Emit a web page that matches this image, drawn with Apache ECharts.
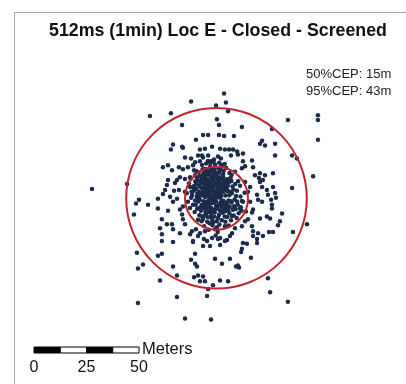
<!DOCTYPE html>
<html>
<head>
<meta charset="utf-8">
<script src="https://cdn.jsdelivr.net/npm/echarts@6/dist/echarts.min.js"></script>
<style>
  html, body { margin: 0; padding: 0; background: #fff; }
  #chart { width: 406px; height: 384px; }
</style>
</head>
<body>
<div id="chart"></div>
<script>
// Chart text
const chartTitle = '512ms (1min) Loc E - Closed - Screened';
const cepLabels = ['50%CEP: 15m', '95%CEP: 43m'];

// CEP radii in metres (50% and 95%), centred on the mean position
const cepRadii = [15, 43];

// Scale bar ticks (metres) and segment length
const scaleTicks = [0, 25, 50];
const scaleSegment = 12.5;
const scaleUnit = 'Meters';

// Position fixes: [east, north] offsets in metres from the mean position
const outerFixes = [
  [-12.1,46.9],[-31.7,39.8],[-21.7,41.2],[-16.4,35.5],[-6.4,30.7],[-4.0,30.7],[-9.8,28.3],[-16.4,25.0],
  [-20.7,26.0],[-21.7,23.6],[-7.9,23.6],[-5.5,24.0],[-6.9,20.7],[-15.0,19.8],[-12.1,19.3],[-10.2,17.4],
  [-7.9,17.9],[-11.2,16.0],[-23.1,16.0],[-25.5,15.0],[-21.2,13.6],[-16.0,14.0],[-10.7,13.6],
  [3.6,50.7],[-0.2,45.0],[4.5,46.4],[5.5,42.1],[34.0,37.9],[48.3,40.2],[48.3,37.9],[0.2,38.3],[1.2,35.5],
  [12.1,34.5],[26.4,33.6],[1.2,30.7],[3.6,30.2],[8.3,30.2],[21.7,27.9],[20.7,26.4],[23.1,25.5],[27.9,26.4],
  [48.3,28.3],[1.7,24.0],[6.0,23.6],[7.9,23.6],[9.8,22.6],[12.6,21.7],[27.9,20.7],[36.0,20.7],[16.9,18.3],
  [0.7,20.2],[2.1,19.3],[-1.2,18.8],[-4.0,20.7],[-2.6,17.9],[6.9,20.7],[10.2,21.2],[12.6,17.9],[13.6,15.5],
  [12.1,14.5],[46.0,10.7],[17.4,15.0],[20.7,12.1],[23.1,11.2],[20.7,7.9],[26.9,12.1],
  [-59.3,4.5],[-42.6,6.9],[-36.9,-0.7],[-38.3,-2.6],[-32.6,-3.1],[-39.3,-7.9],[-27.9,-0.2],[-27.9,-5.0],
  [-23.6,6.4],[-24.5,4.0],[-18.8,8.8],[-19.8,7.4],[-22.1,0.7],[-20.7,-1.7],[-18.8,-0.2],[-17.9,4.0],
  [-20.2,3.6],[-26.0,-10.2],[-23.6,-12.6],[-21.2,-12.6],[-26.9,-14.5],[-26.0,-17.4],[-26.0,-20.7],
  [-20.7,-21.2],[-16.4,-7.9],[-16.0,-10.2],[-15.0,-12.6],[-12.6,-17.4],[-11.2,-21.2],[-8.8,-18.3],
  [-23.1,-6.0],[-17.4,-5.5],[-15.0,9.3],[-12.6,10.2],[-10.2,11.2],
  [-37.4,-50.7],[-18.8,-47.9],[-4.5,-47.4],[-4.0,-44.0],[-26.9,-39.8],[-37.4,-34.0],[-35.0,-32.1],
  [-37.9,-26.4],[-27.9,-27.9],[-26.0,-26.9],[-20.7,-33.1],[-18.8,-37.4],[-10.7,-38.3],[-8.8,-37.4],
  [-6.4,-37.9],[-5.5,-40.2],[-1.7,-42.1],[-10.2,-31.7],[-9.3,-33.1],[-12.1,-29.8],[-0.7,-29.3],[2.6,-31.7],
  [6.4,-29.3],[10.2,-32.6],[10.7,-33.6],[9.3,-33.1],[12.1,-24.5],[14.5,-22.1],[12.6,-21.7],[5.0,-20.2],
  [1.7,-19.3],[-10.2,-26.9],[-11.2,-20.7],[-6.0,-19.8],[-4.5,-20.7],
  [34.0,-50.2],[25.5,-45.5],[24.5,-38.8],[16.4,-28.8],[36.4,-16.4],[43.1,-12.6],[31.2,-7.4],[30.2,-11.2],
  [29.3,-13.1],[26.9,-16.4],[25.0,-16.4],[19.3,-19.8],[19.3,-21.7],[19.8,-16.9],[17.4,-16.0],[20.7,-9.8],
  [24.0,-8.8],[26.4,-5.0],[26.4,-3.1],[21.7,-1.7],[16.0,-1.7],[17.4,-5.5],[15.0,-10.2],[-2.1,-19.3],
  [0.7,-19.8],[1.7,-22.6],[-6.4,-23.1],[-3.1,-23.1],[-11.7,-16.0],[-9.8,-15.0],[-7.9,-16.9],[6.4,-18.3],
  [-20.7,-15.0],[-17.4,-16.9],[1.7,-39.8],[5.5,-40.2],
  [36.0,5.0],[27.9,2.6],[28.3,0.2],[26.0,-0.7],[24.5,1.7],[24.0,4.0],[22.1,8.8],[20.2,9.8],[18.3,11.2],
  [21.7,5.5],[19.3,1.7],[19.8,-0.7],[16.9,-6.9],[25.5,-9.8],[16.9,-13.6],[13.6,-11.2],[17.4,-18.3],
  [22.1,-18.3],[8.8,-14.5],[12.1,-13.6],[7.4,-16.9],[4.0,-20.7],[-15.0,-58.3],[-2.6,-58.8],[11.7,-26.0],
  [-7.9,-40.2],[-16.0,24.5],[-2.1,25.0],[4.0,23.6],[-8.8,20.7],[-6.4,19.8],[-17.9,15.0],[-13.6,15.0],
  [-23.1,8.8],[-17.4,10.2],[-25.5,2.1],[38.3,19.3],[26.9,5.5],
  [13.6,7.9],[15.0,3.1],[12.6,-1.7],[16.0,5.5],[11.2,-5.0],[14.0,-6.4],[-15.0,3.1],[-13.6,-1.7],
  [-16.0,-4.0],[-12.6,5.5],[-5.5,-16.0],[-0.7,-15.0],[4.0,-13.6]
];

const coreFixes = [
  [-3.2,2.1],[-1.4,4.3],[-5.1,6.2],[0.3,0.4],[2.2,3.1],[-2.1,-2.3],[-6.3,1.2],[1.1,7.4],[-4.2,9.1],[3.3,-1.2],
  [-7.1,-3.3],[4.2,5.1],[-1.2,-5.4],[-3.1,11.2],[0.2,12.3],[5.1,9.2],[-8.2,6.1],[2.3,-4.1],[-5.2,-6.3],[6.1,1.4],
  [-9.1,2.2],[7.2,-2.1],[-2.3,8.2],[1.2,-8.1],[-4.1,-9.2],[3.2,10.1],[-6.2,12.1],[4.1,-6.3],[-10.2,-1.1],[8.1,4.2],
  [-1.1,14.1],[-3.3,-12.1],[5.2,-9.1],[-7.2,9.3],[9.1,-5.2],[0.1,-11.2],[-11.1,5.3],[6.2,12.2],[2.1,15.1],[-5.3,14.2],
  [-8.1,-8.2],[7.1,8.3],[-2.2,5.4],[1.3,2.2],[-4.3,4.1],[-3.4,-4.2],[2.4,-1.3],[0.4,5.2],[-6.1,-1.4],[3.1,6.3],
  [-1.3,1.1],[-2.4,-7.2],[4.3,1.3],[-5.4,3.2],[-8.3,0.1],[6.3,-4.1],[-3.2,7.3],[1.4,10.2],[-7.3,5.1],[5.3,3.4],
  [-9.2,-5.1],[8.2,-8.3],[-4.4,13.1],[3.4,13.2],[-10.1,8.2],[9.3,1.1],[-2.1,-10.3],[0.2,-14.1],[-6.4,-10.1],[10.1,-3.2],
  [-12.1,0.2],[11.2,6.1],[-1.4,9.4],[2.2,7.2],[-5.1,-3.4],[-3.3,0.3],[1.1,-3.2],[-2.3,3.3],[4.4,-2.2],[-7.4,-6.1],
  [0.3,3.1],[-4.2,1.3],[2.3,1.2],[-1.2,-2.1],[-3.4,5.2],[3.3,3.2],[-6.2,4.4],[5.4,6.1],[-8.4,3.2],[1.2,12.4],
  [-5.2,10.3],[6.1,-7.3],[-9.3,10.1],[7.2,11.3],[-11.2,-3.1],[10.3,8.2],[-3.1,15.2],[4.2,-11.4],[-7.1,-11.2],[12.1,-1.3],
  [-2.7,1.6],[-0.6,2.8],[-4.6,7.6],[-1.8,6.7],[-3.9,3.4],[-0.9,-0.7],[0.8,4.6],[-5.7,8.4],[-2.6,10.3],[-1.6,12.7],
  [-6.8,2.9],[-4.8,-1.8],[1.7,-6.1],[3.7,8.2],[-0.4,7.9],[-3.6,-6.7],[-7.7,7.8],[2.8,-2.9],[-5.8,-8.3],[4.8,-4.6],
  [-9.6,4.6],[-2.9,13.6],[0.7,-9.6],[5.7,-1.1],[-4.4,-11.4],[7.6,5.7],[-11.6,1.6],[6.7,9.8],[-1.9,-13.1],[3.9,-8.8],
  [-8.7,-1.6],[8.6,-0.6],[-6.6,14.1],[1.9,13.8],[-10.4,-6.7],[9.7,3.6],[-0.7,16.3],[-4.9,16.8],[2.6,16.1],[-8.6,12.6],
  [-12.6,-4.7],[11.6,-4.4],[0.6,-16.4],[-3.7,-15.3],[5.8,-13.2],[-13.1,7.3],[8.8,12.8],[-14.2,2.4],[13.4,2.7],[4.6,14.7],
  [-1.7,3.9],[-3.8,8.8],[0.4,9.7],[-5.6,5.4],[-2.4,0.8],[-0.2,-3.7],[1.6,5.8],[-4.7,-4.8],[-6.7,-4.4],[2.7,4.4],
  [-2.6,-4.6],[3.6,-5.3],[-7.6,1.7],[0.9,1.6],[-3.6,12.4],[-1.3,11.1],[2.4,9.3],[-5.7,11.7],[-9.7,6.9],[6.6,3.2],
  [-0.8,-6.8],[-6.9,-8.9],[4.7,7.7],[-2.8,-8.8],[8.4,-3.9],[-10.8,3.6],[1.4,-12.7],[6.9,-10.7],[-8.8,-10.4],[10.6,-7.3],
  [-4.6,2.6],[-3.3,6.4],[-1.9,7.4],[-0.3,2.1],[-5.4,0.6],[-2.1,-0.6],[0.6,6.6],[-6.4,7.1],[1.8,0.3],[-4.1,11.7],
  [-7.8,10.9],[3.1,11.6],[-2.9,16.9],[0.9,14.4],[-9.9,-3.1],[7.8,-5.6],[-1.1,-8.9],[4.3,-13.8],[-5.9,-13.6],[11.4,0.9],
  [-3.8,-1.1],[-0.2,-1.6],[1.9,-2.2],[-5.9,-2.6],[-2.9,-5.8],[0.5,-5.1],[2.9,-7.0],[-4.9,-7.5],[-1.6,-11.6],[2.5,-10.6],
  [-7.9,-0.9],[-9.4,0.7],[-10.6,6.1],[-11.9,3.1],[-6.9,10.2],[-4.9,12.4],[-2.1,14.7],[-0.3,10.9],[1.1,8.8],[3.6,7.1],
  [4.9,4.4],[5.9,7.8],[7.3,2.4],[8.9,6.9],[9.8,-1.6],[6.8,-1.4],[5.1,-2.9],[3.7,-3.3],[5.6,-5.7],[7.4,-8.6],
  [-6.1,9.1],[-8.9,8.6],[-4.3,5.8],[-2.8,4.4],[-1.1,6.1],[0.9,3.9],[-0.7,0.9],[-3.6,-2.5],[-5.6,-4.9],[-8.1,-4.6],
  [-1.5,17.9],[1.3,17.2],[-4.1,18.1],[-6.9,16.1],[3.9,16.6],[-9.6,13.1],[-12.3,9.4],[11.9,-6.1],[9.6,-9.6],[-0.4,-18.1]
];

const fixes = outerFixes.concat(coreFixes);

const FONT = '"Liberation Sans", Arial, sans-serif';
const DOT = '#1b2b4c';
const RING = '#c0262d';

const chart = echarts.init(document.getElementById('chart'), null, { renderer: 'canvas' });

chart.setOption({
  animation: false,
  backgroundColor: '#ffffff',
  grid: { left: 27.5, top: 12.5, width: 378, height: 378 },
  xAxis: { type: 'value', min: -90, max: 90, show: false },
  yAxis: { type: 'value', min: -90, max: 90, show: false },
  series: [
    {
      type: 'scatter',
      data: fixes,
      symbol: 'circle',
      symbolSize: 4.5,
      itemStyle: { color: DOT, opacity: 1 },
      z: 2
    },
    {
      type: 'custom',
      data: cepRadii.map(r => [0, 0, r]),
      renderItem: function (params, api) {
        const c = api.coord([api.value(0), api.value(1)]);
        const r = api.size([api.value(2), 0])[0];
        return {
          type: 'circle',
          shape: { cx: c[0], cy: c[1], r: r },
          style: { fill: 'none', stroke: RING, lineWidth: 2 }
        };
      },
      z: 3
    }
  ]
});

// Map-style furniture: frame, title, CEP legend and scale bar
const x0 = chart.convertToPixel({ xAxisIndex: 0 }, 0);
const pxPerM = chart.convertToPixel({ xAxisIndex: 0 }, 1) - x0;
const barLeft = 34, barTop = 347, barH = 6;
const nSeg = Math.round(scaleTicks[scaleTicks.length - 1] / scaleSegment);
const segW = scaleSegment * pxPerM;

const graphics = [
  { type: 'rect', shape: { x: 14.5, y: 12.5, width: 420, height: 400 },
    style: { fill: null, stroke: '#a8a8a8', lineWidth: 1 }, z: 10 },
  { type: 'text', x: 218, y: 31, z: 10,
    style: { text: chartTitle, font: 'bold 17.8px ' + FONT, fill: '#111', textAlign: 'center', textVerticalAlign: 'middle' } }
];
cepLabels.forEach((t, i) => {
  graphics.push({ type: 'text', x: 306, y: 74 + i * 17, z: 10,
    style: { text: t, font: '13px ' + FONT, fill: '#222', textAlign: 'left', textVerticalAlign: 'middle' } });
});
for (let i = 0; i < nSeg; i++) {
  graphics.push({ type: 'rect', shape: { x: barLeft + i * segW, y: barTop, width: segW, height: barH },
    style: { fill: i % 2 === 0 ? '#000' : '#fff', stroke: '#000', lineWidth: 1 }, z: 10 });
}
scaleTicks.forEach(v => {
  graphics.push({ type: 'text', x: barLeft + v * pxPerM, y: 368, z: 10,
    style: { text: String(v), font: '16px ' + FONT, fill: '#111', textAlign: 'center', textVerticalAlign: 'middle' } });
});
graphics.push({ type: 'text', x: barLeft + nSeg * segW + 3, y: 349, z: 10,
  style: { text: scaleUnit, font: '16.5px ' + FONT, fill: '#111', textAlign: 'left', textVerticalAlign: 'middle' } });

chart.setOption({ graphic: { elements: graphics } });
</script>
</body>
</html>
